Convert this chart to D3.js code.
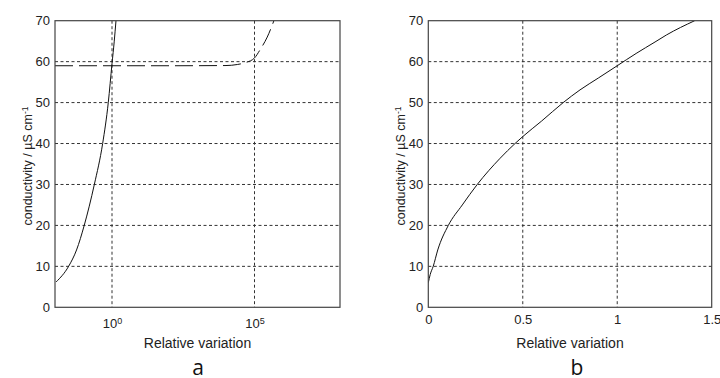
<!DOCTYPE html>
<html>
<head>
<meta charset="utf-8">
<script src="https://cdn.jsdelivr.net/npm/d3@7"></script>
<style>
  body { margin: 0; background: #fff; }
  svg { display: block; }
  text { font-family: "Liberation Sans", Arial, sans-serif; fill: #222; }
  .panel-label { font-family: "Open Sans", "Noto Sans", sans-serif; font-size: 21px; fill: #111; }
</style>
</head>
<body>
<svg id="chart" width="720" height="378"></svg>
<script>
// Données
const yTicks = [0, 10, 20, 30, 40, 50, 60, 70];

// panneau a : axe x logarithmique
const aXTicks = [1, 1e5];
const aSolidX = [0.011, 0.03, 0.057, 0.106, 0.24, 0.47, 0.74, 1.0, 1.2, 1.38];
const aSolidY = [6.2, 10, 14, 20, 30, 40, 50, 59.5, 65, 70];
const aDashX = [0.01, 1, 100, 1e4, 2.5e4, 5e4, 1e5, 1.6e5, 2.8e5, 4.8e5];
const aDashY = [59, 59, 59, 59.05, 59.3, 59.8, 60.9, 63, 66, 70];

// panneau b : axe x linéaire
const bX = [0, 0.01, 0.026, 0.05, 0.106, 0.18, 0.259, 0.38, 0.459, 0.5, 0.6, 0.714, 0.803, 0.9, 1.0, 1.1, 1.2, 1.26, 1.41];
const bY = [6, 8, 10, 14, 20, 25, 30, 36.4, 40, 41.7, 45.5, 50, 53.1, 56, 59, 62, 64.8, 66.5, 70];
const bXTicks = [0, 0.5, 1, 1.5];

const svg = d3.select("#chart");
const plotTop = 20.7, plotBottom = 307.3;

// Fonction pour dessiner un panneau
const drawPanel = (opts) => {
  const { id, x, xTicks, series, label, labelX, xFormat } = opts;
  const y = d3.scaleLinear().domain([0, 70]).range([plotBottom, plotTop]);
  const [x0, x1] = x.range();
  const g = svg.append("g");

  g.append("clipPath").attr("id", "clip-" + id)
    .append("rect").attr("x", x0).attr("y", plotTop).attr("width", x1 - x0).attr("height", plotBottom - plotTop);

  // grille pointillée
  g.selectAll(".hgrid").data(yTicks.filter((d) => d > 0 && d < 70)).join("line")
    .attr("x1", x0).attr("x2", x1)
    .attr("y1", (d) => y(d)).attr("y2", (d) => y(d))
    .attr("stroke", "#333").attr("stroke-width", 1).attr("stroke-dasharray", "3,2.5");
  g.selectAll(".vgrid").data(xTicks.filter((d) => x(d) > x0 + 1 && x(d) < x1 - 1)).join("line")
    .attr("x1", (d) => x(d)).attr("x2", (d) => x(d))
    .attr("y1", plotTop).attr("y2", plotBottom)
    .attr("stroke", "#333").attr("stroke-width", 1).attr("stroke-dasharray", "3,2.5");

  // courbes
  series.forEach((s) => {
    const pts = s.xs.map((v, i) => [v, s.ys[i]]);
    g.append("path")
      .datum(pts)
      .attr("clip-path", "url(#clip-" + id + ")")
      .attr("fill", "none")
      .attr("stroke", "#111")
      .attr("stroke-width", 1)
      .attr("stroke-dasharray", s.dash || null)
      .attr("d", d3.line().x((d) => x(d[0])).y((d) => y(d[1])).curve(d3.curveMonotoneX));
  });

  // cadre
  g.append("rect")
    .attr("x", x0).attr("y", plotTop).attr("width", x1 - x0).attr("height", plotBottom - plotTop)
    .attr("fill", "none").attr("stroke", "#444").attr("stroke-width", 1.2);

  // axe y
  const yAxis = g.append("g").attr("transform", `translate(${x0},0)`)
    .call(d3.axisLeft(y).tickValues(yTicks).tickSize(0).tickPadding(5));
  yAxis.select(".domain").remove();
  yAxis.selectAll("text").attr("font-size", 13).attr("fill", "#222")
    .style("font-family", "'Liberation Sans', Arial, sans-serif");

  // axe x
  const xAxis = g.append("g").attr("transform", `translate(0,${plotBottom})`)
    .call(d3.axisBottom(x).tickValues(xTicks).tickSize(0).tickPadding(7.5).tickFormat(xFormat || null));
  xAxis.select(".domain").remove();
  xAxis.selectAll("text").attr("font-size", 13).attr("fill", "#222")
    .style("font-family", "'Liberation Sans', Arial, sans-serif");
  if (opts.powerLabels) {
    xAxis.selectAll(".tick text").each(function (d) {
      const t = d3.select(this).text("").attr("y", 21).attr("dy", null);
      t.append("tspan").text("10");
      t.append("tspan").attr("dy", "-0.5em").attr("font-size", 9).text(Math.round(Math.log10(d)));
    });
  }

  // titres
  g.append("text")
    .attr("x", (x0 + x1) / 2).attr("y", 348)
    .attr("text-anchor", "middle").attr("font-size", 14)
    .text("Relative variation");

  const yl = g.append("text")
    .attr("transform", `translate(${x0 - 23},${(plotTop + plotBottom) / 2 + 2}) rotate(-90)`)
    .attr("text-anchor", "middle").attr("font-size", 12.5);
  yl.append("tspan").text("conductivity / \u00b5S cm");
  yl.append("tspan").attr("dy", "-0.5em").attr("font-size", 8.5).text("-1");

  g.append("text").attr("class", "panel-label")
    .attr("x", labelX).attr("y", 375)
    .attr("text-anchor", "middle")
    .text(label);
};

drawPanel({
  id: "a",
  x: d3.scaleLog().domain([1e-2, 1e8]).range([55, 340]),
  xTicks: aXTicks,
  series: [
    { xs: aSolidX, ys: aSolidY },
    { xs: aDashX, ys: aDashY, dash: "18,6" },
  ],
  powerLabels: true,
  label: "a",
  labelX: 198,
});

drawPanel({
  id: "b",
  x: d3.scaleLinear().domain([0, 1.5]).range([428.3, 711.7]),
  xTicks: bXTicks,
  xFormat: d3.format("~g"),
  series: [{ xs: bX, ys: bY }],
  label: "b",
  labelX: 577,
});
</script>
</body>
</html>
